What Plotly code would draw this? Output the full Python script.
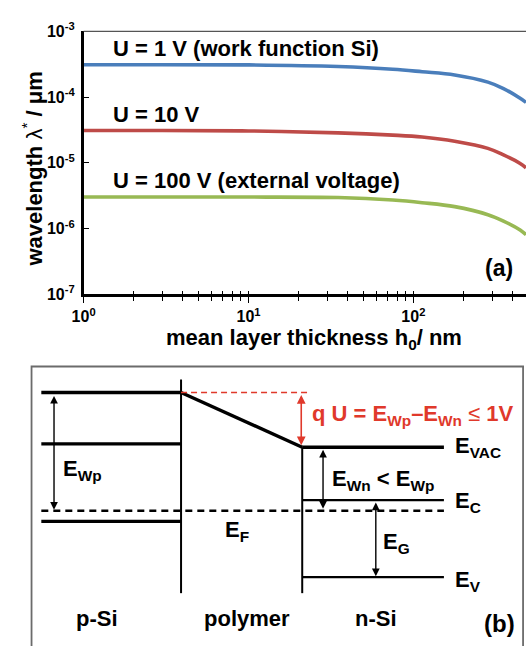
import plotly.graph_objects as go

W, H = 526, 655
FONT = "Liberation Sans"

# ---------------- panel (a): wavelength vs. mean layer thickness ----------------
thickness_nm = [1, 3, 10, 35, 75, 113, 178, 283, 352, 444, 482]
wl_1V = [3.10e-4, 3.10e-4, 3.09e-4, 2.92e-4, 2.66e-4, 2.43e-4, 2.17e-4, 1.69e-4, 1.35e-4, 9.6e-5, 8.3e-5]
wl_10V = [3.10e-5, 3.10e-5, 3.06e-5, 2.86e-5, 2.64e-5, 2.47e-5, 2.13e-5, 1.66e-5, 1.32e-5, 9.8e-6, 8.4e-6]
wl_100V = [3.03e-6, 3.03e-6, 3.02e-6, 2.97e-6, 2.72e-6, 2.48e-6, 2.16e-6, 1.63e-6, 1.30e-6, 9.5e-7, 8.1e-7]
series_labels = ["U = 1 V (work function Si)", "U = 10 V", "U = 100 V (external voltage)"]
series_colors = ["#4A7EBB", "#BE4B48", "#98B954"]
y_tick_exp = [-7, -6, -5, -4, -3]
x_tick_exp = [0, 1, 2]
x_minor = [2, 3, 4, 5, 6, 7, 8, 9, 20, 30, 40, 50, 60, 70, 80, 90, 200, 300, 400]

# ---------------- panel (b): band diagram ----------------
# horizontal positions: p-Si left end, p-Si/polymer, polymer/n-Si, n-Si right end
region_x = [30, 173, 297, 442]
# energies relative to the Fermi level E_F (diagram units)
p_si_levels = [122, 69, -11]      # E_VAC, E_C, E_V of p-Si
n_si_levels = [65.5, 11, -68.5]   # E_VAC, E_C, E_V of n-Si
fermi_level = 0
interface_span = [135.5, -85]     # top / bottom of the interface lines
region_names = ["p-Si", "polymer", "n-Si"]


def px(x):
    return x / W


def py(y):
    return 1 - y / H


fig = go.Figure()

for wl, color in zip([wl_1V, wl_10V, wl_100V], series_colors):
    fig.add_trace(go.Scatter(
        x=thickness_nm, y=wl, mode="lines", xaxis="x", yaxis="y",
        line=dict(color=color, width=3.6, shape="spline", smoothing=1.0),
        showlegend=False, hoverinfo="skip"))

# invisible trace for the overlay axis carrying the inner half of the x ticks
fig.add_trace(go.Scatter(x=[thickness_nm[0]], y=[wl_1V[0]], xaxis="x3", yaxis="y",
                         mode="markers", marker=dict(opacity=0), showlegend=False,
                         hoverinfo="skip"))


# ---- band diagram traces ----
def seg(xs, ys, width, color="black", dash=None):
    fig.add_trace(go.Scatter(
        x=xs, y=ys, mode="lines", xaxis="x2", yaxis="y2",
        line=dict(color=color, width=width, dash=dash),
        showlegend=False, hoverinfo="skip"))


x0, x1, x2, x3 = region_x
# frame of panel (b)
seg([20, 20, 523, 523], [-200, 148.8, 148.8, -200], 1.8, "#6b6b6b")
# p-Si levels
for lvl in p_si_levels:
    seg([x0, x1], [lvl, lvl], 3.4)
# vacuum level across the polymer
seg([x1, x2], [p_si_levels[0], n_si_levels[0]], 3.4)
# n-Si levels
seg([x2, x3], [n_si_levels[0], n_si_levels[0]], 3.4)
seg([x2, x3], [n_si_levels[1], n_si_levels[1]], 2.4)
seg([x2, x3], [n_si_levels[2], n_si_levels[2]], 2.4)
# interfaces
seg([x1, x1], interface_span, 2.0)
seg([x2, x2], [n_si_levels[0], interface_span[1]], 2.0)
# Fermi level
seg([x0, x3], [fermi_level, fermi_level], 2.4, dash="7px,5px")
# reference line of the p-side vacuum level
seg([x1, 305], [p_si_levels[0], p_si_levels[0]], 1.6, "#E0392B", dash="6px,4px")

fig.update_layout(
    width=W, height=H, autosize=False,
    margin=dict(l=0, r=0, t=0, b=0),
    paper_bgcolor="white", plot_bgcolor="white",
    font=dict(family=FONT, color="black"),
    xaxis=dict(
        type="log", domain=[px(73.3), 1], range=[0, 2.683], anchor="y",
        showgrid=False, zeroline=False, showline=True, linecolor="black", linewidth=2.5,
        ticks="outside", ticklen=6, tickwidth=1.4, tickcolor="black",
        tickvals=[10 ** e for e in x_tick_exp],
        ticktext=[f"<b>10<sup>{e}</sup></b>" for e in x_tick_exp],
        tickfont=dict(size=16, family=FONT),
        minor=dict(ticks="outside", ticklen=3.5, tickwidth=1.2, tickcolor="black",
                   tickvals=x_minor, showgrid=False),
    ),
    xaxis3=dict(
        type="log", overlaying="x", matches="x", anchor="y", side="bottom",
        showgrid=False, zeroline=False, showline=False, showticklabels=False,
        ticks="inside", ticklen=3.5, tickwidth=1.4, tickcolor="black",
        tickvals=[10 ** e for e in x_tick_exp],
        minor=dict(ticks="inside", ticklen=3.5, tickwidth=1.2, tickcolor="black",
                   tickvals=x_minor, showgrid=False),
    ),
    yaxis=dict(
        type="log", domain=[py(292.3), py(21)], range=[-7, -3], anchor="x",
        showgrid=False, zeroline=False, showline=True, linecolor="black", linewidth=2.5,
        ticks="inside", ticklen=6, tickwidth=1.4, tickcolor="black",
        tickvals=[10 ** e for e in y_tick_exp],
        ticktext=[f"<b>10<sup>{e}</sup></b>" for e in y_tick_exp],
        tickfont=dict(size=16, family=FONT),
        ticklabelstandoff=3,
    ),
    xaxis2=dict(domain=[0, 1], range=[0, W], anchor="y2", visible=False, fixedrange=True),
    yaxis2=dict(domain=[0, py(300)], range=[515.5 - 655, 515.5 - 300], anchor="x2",
                visible=False, fixedrange=True),
)

# top frame line of panel (a)
fig.add_shape(type="line", xref="x domain", yref="y domain", x0=0, x1=1, y0=1, y1=1,
              line=dict(color="#555555", width=1.2))

annotations = []


def text(x, y, s, size=22, color="black", xanchor="left", yanchor="middle", angle=0):
    annotations.append(dict(
        x=px(x), y=py(y), xref="paper", yref="paper", text=s, showarrow=False,
        xanchor=xanchor, yanchor=yanchor, textangle=angle,
        font=dict(family=FONT, size=size, color=color)))


# panel (a) texts
text(101, 39, f"<b>{series_labels[0]}</b>")
text(101, 107, f"<b>{series_labels[1]}</b>")
text(101, 175, f"<b>{series_labels[2]}</b>")
text(515, 265, "<b>(a)</b>", size=23, xanchor="right")
text(21, 163, "<b>wavelength</b> λ<sup>*</sup> <b>/ μm</b>", xanchor="center", angle=-90)
text(309.5, 338, "<b>mean layer thickness h<sub>0</sub>/ nm</b>", xanchor="center")

# panel (b) texts
text(305, 417, "<b>q U = E<sub>Wp</sub>–E<sub>Wn</sub></b> ≤ <b>1V</b>", color="#E0392B")
text(50, 473, "<b>E<sub>Wp</sub></b>")
text(216, 536, "<b>E<sub>F</sub></b>")
text(325, 484, "<b>E<sub>Wn</sub> &lt; E<sub>Wp</sub></b>")
text(378, 549, "<b>E<sub>G</sub></b>")
text(451.5, 450, "<b>E<sub>VAC</sub></b>")
text(451.5, 506, "<b>E<sub>C</sub></b>")
text(451.5, 588, "<b>E<sub>V</sub></b>")
text(87, 627, f"<b>{region_names[0]}</b>", xanchor="center")
text(240, 627, f"<b>{region_names[1]}</b>", xanchor="center")
text(372.5, 627, f"<b>{region_names[2]}</b>", xanchor="center")
text(517, 632, "<b>(b)</b>", size=24, xanchor="right")


def arrow(x, y_from, y_to, color="black", width=1.4):
    annotations.append(dict(
        x=x, y=y_to, ax=x, ay=y_from, xref="x2", yref="y2", axref="x2", ayref="y2",
        text="", showarrow=True, arrowhead=2, startarrowhead=2, arrowside="end+start",
        arrowsize=1.1, startarrowsize=1.1, arrowwidth=width, arrowcolor=color,
        standoff=0, startstandoff=0))


arrow(43, p_si_levels[0] - 2, fermi_level + 1)
arrow(318.3, n_si_levels[0] - 1, fermi_level + 2)
arrow(372.3, n_si_levels[1] - 1, n_si_levels[2] + 1)
arrow(296, p_si_levels[0] - 1, n_si_levels[0] + 2, color="#E0392B", width=1.6)

fig.update_layout(annotations=annotations)

fig.write_html("out.html")
